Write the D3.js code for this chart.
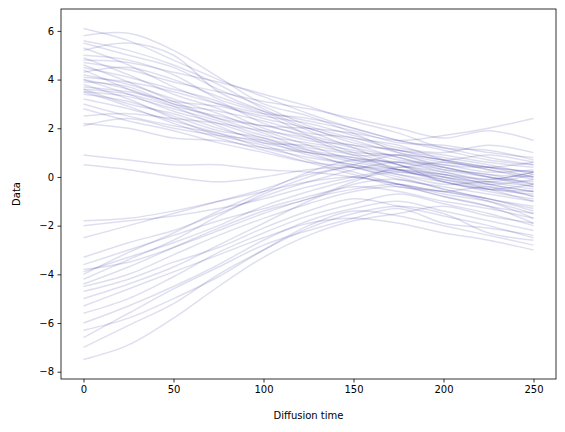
<!DOCTYPE html>
<html>
<head>
<meta charset="utf-8">
<script src="https://cdn.jsdelivr.net/npm/d3@7"></script>
<style>
body { margin: 0; background: #fff; }
text { font-family: "DejaVu Sans", sans-serif; }
</style>
</head>
<body>
<script>
// sampled diffusion times
var times = [0, 25, 50, 75, 100, 125, 150, 175, 200, 225, 250];

// paths starting high
var upperPaths = [
  [6.1,5.6,4.8,4.0,3.3,2.6,2.0,1.5,1.2,0.8,0.5],
  [5.8,5.9,5.2,4.1,3.0,2.5,1.8,1.0,0.6,0.4,0.2],
  [5.5,5.0,4.5,3.6,2.9,2.1,1.6,1.3,0.7,0.3,-0.1],
  [5.3,4.6,3.7,3.0,2.4,2.0,1.4,1.1,0.9,0.6,0.4],
  [5.0,4.8,4.2,3.2,2.6,1.7,1.0,0.5,0.1,-0.3,-0.6],
  [4.9,4.2,3.4,2.8,2.0,1.5,1.3,0.8,0.4,0.0,-0.2],
  [4.7,4.4,3.9,3.5,3.1,2.8,2.4,2.0,1.6,1.9,1.5],
  [4.6,3.9,3.1,2.4,1.8,1.1,0.6,0.3,-0.2,-0.6,-0.9],
  [4.5,4.1,3.6,3.1,2.2,1.6,0.9,0.9,0.4,0.1,0.0],
  [4.4,3.6,2.9,2.1,1.4,1.0,0.4,0.0,-0.5,-0.9,-1.3],
  [4.3,4.5,4.0,3.3,2.7,2.3,1.9,1.4,1.3,1.0,0.8],
  [4.2,3.8,3.2,2.6,1.9,1.3,0.7,0.6,0.2,-0.2,-0.5],
  [4.0,3.4,2.7,2.2,1.6,1.2,0.9,0.3,-0.1,-0.4,-0.8],
  [3.9,3.7,3.0,2.7,2.3,1.8,1.6,1.1,0.8,0.5,0.1],
  [3.8,3.2,2.4,1.7,1.3,0.7,0.2,-0.3,-0.8,-1.2,-1.5],
  [3.7,3.5,3.1,2.9,2.5,2.2,1.7,1.2,1.0,1.3,1.0],
  [3.6,3.0,2.6,2.0,1.5,0.9,0.5,0.2,0.0,-0.3,-0.1],
  [3.5,3.3,2.8,2.3,1.7,1.4,1.1,0.7,0.5,0.2,0.3],
  [3.5,2.9,2.2,1.6,1.1,0.6,0.1,-0.4,-0.6,-1.0,-1.7],
  [3.4,3.1,2.5,1.9,1.6,1.0,0.8,0.4,0.6,0.3,0.0],
  [3.2,2.8,2.3,1.8,1.2,0.8,0.5,0.1,-0.3,-0.2,-0.4],
  [3.0,2.5,2.1,1.8,1.4,1.3,1.0,0.9,0.5,0.4,0.6],
  [2.8,2.3,1.9,1.4,1.0,0.6,0.4,-0.1,-0.4,-0.7,-1.0],
  [2.5,2.6,2.4,2.2,1.9,1.6,1.2,0.8,0.3,0.0,-0.3],
  [2.2,2.0,1.6,1.5,1.2,1.0,0.7,0.3,0.1,-0.1,0.2],
  [2.1,2.4,2.0,1.7,1.5,1.1,0.8,0.5,-0.2,-0.5,-0.6],
  [5.6,5.2,4.6,3.8,2.8,2.0,1.5,1.0,0.7,0.4,0.0],
  [5.2,5.5,5.0,3.5,2.7,1.9,1.2,0.5,0.0,-0.5,-1.0],
  [4.8,4.7,4.3,3.9,3.4,2.9,2.3,1.8,1.2,1.1,0.7],
  [4.1,3.9,3.5,3.0,2.6,2.4,2.0,1.5,1.1,0.7,0.5],
  [0.9,0.7,0.5,0.5,0.3,0.2,0.0,-0.3,-0.6,-0.9,-1.4],
  [0.5,0.3,0.0,-0.2,0.0,0.3,0.4,0.1,-0.2,-0.5,-0.3],
  [3.6,3.4,2.9,2.5,2.1,2.0,1.8,1.5,1.7,2.0,2.4],
  [4.0,3.6,3.0,2.4,2.1,1.7,1.3,1.1,0.7,0.9,0.6]
];

// paths starting low
var lowerPaths = [
  [-1.8,-1.7,-1.4,-1.0,-0.6,-0.2,0.0,-0.3,-0.7,-1.0,-1.5],
  [-2.5,-2.0,-1.5,-1.0,-0.5,0.1,0.4,0.3,0.0,-0.2,0.1],
  [-3.3,-2.7,-2.2,-1.5,-0.8,-0.2,0.3,0.6,0.4,0.0,-0.4],
  [-3.6,-3.0,-2.4,-1.8,-1.3,-0.8,-0.4,-0.6,-1.0,-1.3,-1.7],
  [-3.9,-3.3,-2.7,-2.0,-1.2,-0.6,-0.1,0.2,-0.1,-0.5,-0.7],
  [-4.2,-3.4,-2.6,-1.6,-0.7,0.0,0.5,0.9,0.7,0.4,0.2],
  [-4.5,-4.0,-3.2,-2.4,-1.7,-1.1,-0.6,-0.4,-0.8,-1.2,-1.9],
  [-4.7,-4.2,-3.5,-2.9,-2.1,-1.4,-0.9,-1.2,-1.6,-2.0,-2.5],
  [-5.0,-4.4,-3.7,-2.8,-1.9,-1.0,-0.3,-0.1,-0.5,-0.9,-1.2],
  [-5.6,-5.0,-4.1,-3.1,-2.3,-1.6,-1.1,-0.7,-1.1,-1.5,-2.0],
  [-6.0,-5.3,-4.5,-3.6,-2.6,-1.8,-1.3,-1.0,-1.4,-1.8,-2.2],
  [-6.3,-5.8,-5.0,-4.1,-3.0,-2.0,-1.4,-1.6,-2.0,-2.4,-2.8],
  [-7.0,-6.1,-5.2,-4.0,-3.0,-2.1,-1.5,-1.2,-1.5,-2.3,-2.6],
  [-7.5,-6.9,-5.8,-4.5,-3.3,-2.4,-1.8,-1.5,-1.2,-1.6,-1.9],
  [-3.8,-3.5,-2.9,-2.2,-1.5,-0.9,-0.5,-0.3,-0.6,-0.4,-0.8],
  [-4.0,-3.1,-2.3,-1.4,-0.6,0.2,0.7,0.6,0.3,0.1,-0.3],
  [-5.3,-4.6,-3.9,-3.2,-2.5,-1.9,-1.7,-1.9,-2.3,-2.6,-3.0],
  [-2.0,-1.8,-1.6,-1.3,-0.9,-0.4,0.0,0.3,0.1,-0.3,-0.6],
  [-4.4,-3.7,-2.9,-2.1,-1.4,-0.9,-0.2,0.4,0.2,-0.1,0.2],
  [-6.6,-5.6,-4.6,-3.7,-2.8,-2.2,-1.7,-1.3,-1.9,-2.1,-2.4]
];

var xTicks = [0, 50, 100, 150, 200, 250];
var yTicks = [-8, -6, -4, -2, 0, 2, 4, 6];

var W = 565, H = 432;
var mLeft = 61, mRight = 556, mTop = 9, mBottom = 379;

var svg = d3.select("body").append("svg").attr("width", W).attr("height", H);

var x = d3.scaleLinear().domain([-12.5, 262.5]).range([mLeft, mRight]);
var y = d3.scaleLinear().domain([-8.3, 6.9]).range([mBottom, mTop]);

var line = d3.line()
    .x(function(d, i) { return x(times[i]); })
    .y(function(d) { return y(d); })
    .curve(d3.curveCatmullRom);

var allPaths = upperPaths.concat(lowerPaths);

svg.append("g").selectAll("path")
    .data(allPaths)
    .enter().append("path")
    .attr("d", line)
    .attr("fill", "none")
    .attr("stroke", "#00008b")
    .attr("stroke-opacity", 0.13)
    .attr("stroke-width", 1.5);

var xAxis = svg.append("g").attr("transform", "translate(0," + mBottom + ")")
    .call(d3.axisBottom(x).tickValues(xTicks).tickSize(3.5).tickPadding(3.5));
var yAxis = svg.append("g").attr("transform", "translate(" + mLeft + ",0)")
    .call(d3.axisLeft(y).tickValues(yTicks).tickSize(3.5).tickPadding(3.5));
[xAxis, yAxis].forEach(function(a) {
    a.select(".domain").remove();
    a.selectAll("text").attr("font-size", 10).attr("fill", "#000")
        .style("font-family", "DejaVu Sans");
    a.selectAll("line").attr("stroke", "#000").attr("stroke-width", 0.8);
});

svg.append("rect")
    .attr("x", mLeft).attr("y", mTop)
    .attr("width", mRight - mLeft).attr("height", mBottom - mTop)
    .attr("fill", "none").attr("stroke", "#000").attr("stroke-width", 0.8);

svg.append("text")
    .attr("x", (mLeft + mRight) / 2).attr("y", 419)
    .attr("text-anchor", "middle").attr("font-size", 10)
    .text("Diffusion time");

svg.append("text")
    .attr("transform", "translate(20," + (mTop + mBottom) / 2 + ") rotate(-90)")
    .attr("text-anchor", "middle").attr("font-size", 10)
    .text("Data");
</script>
</body>
</html>
